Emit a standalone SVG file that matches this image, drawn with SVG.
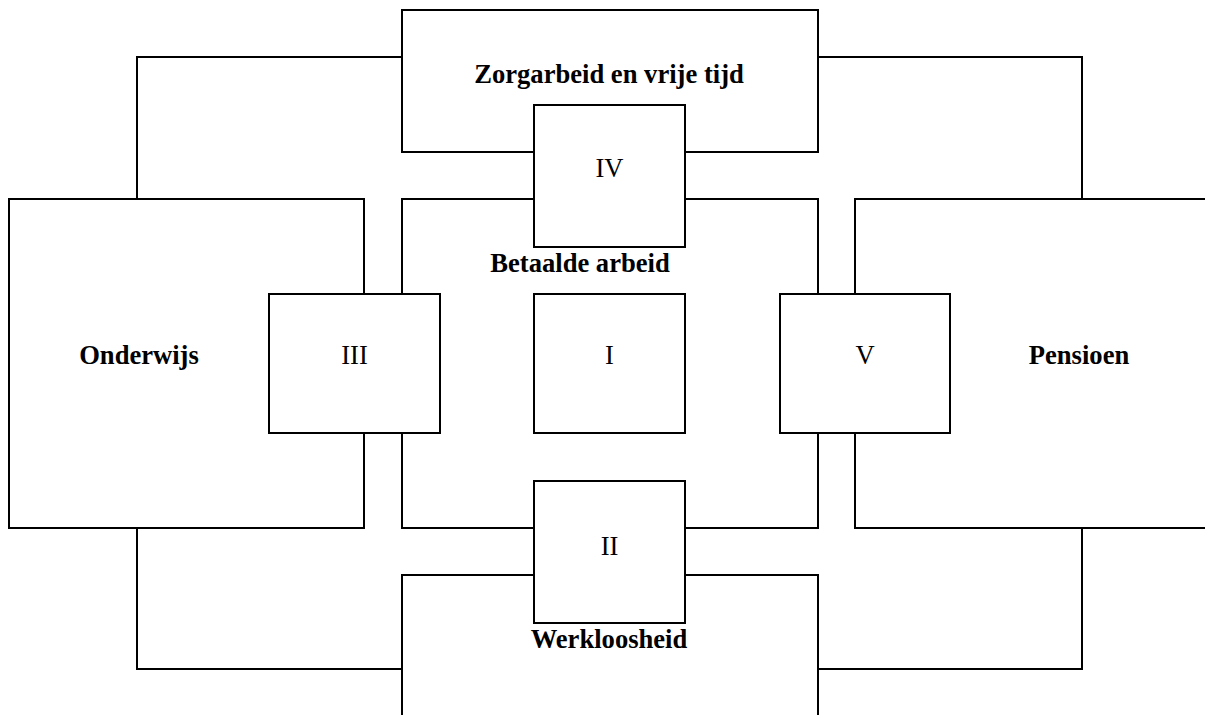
<svg xmlns="http://www.w3.org/2000/svg" width="1205" height="715" viewBox="0 0 1205 715">
<style>
.box{fill:#fff;stroke:#000;stroke-width:2}
.con{fill:none;stroke:#000;stroke-width:2}
.lbl{font-family:"Liberation Serif","Times New Roman",serif;font-size:26.6px;font-weight:bold;fill:#000;text-anchor:middle}
.num{font-family:"Liberation Serif","Times New Roman",serif;font-size:26.6px;fill:#000;text-anchor:middle}
</style>
<rect width="1205" height="715" fill="#fff"/>
<g id="connectors">
<polyline class="con" points="137,199 137,57 402,57"/>
<polyline class="con" points="818,57 1082,57 1082,199"/>
<polyline class="con" points="137,528 137,669 402,669"/>
<polyline class="con" points="818,669 1082,669 1082,528"/>
</g>
<g id="zorgarbeid">
<rect class="box" x="402" y="10" width="416" height="142"/>
<text class="lbl" x="609" y="83">Zorgarbeid en vrije tijd</text>
</g>
<g id="betaalde-arbeid">
<rect class="box" x="402" y="199" width="416" height="329"/>
<text class="lbl" x="580" y="272">Betaalde arbeid</text>
</g>
<g id="onderwijs">
<rect class="box" x="9" y="199" width="355" height="329"/>
<text class="lbl" x="139" y="364">Onderwijs</text>
</g>
<g id="pensioen">
<rect class="box" x="855" y="199" width="360" height="329"/>
<text class="lbl" x="1079" y="364">Pensioen</text>
</g>
<g id="werkloosheid">
<rect class="box" x="402" y="575" width="416" height="145"/>
</g>
<g id="box-IV">
<rect class="box" x="534" y="105" width="151" height="142"/>
<text class="num" x="609.5" y="177">IV</text>
</g>
<g id="box-III">
<rect class="box" x="269" y="294" width="171" height="139"/>
<text class="num" x="354.5" y="364">III</text>
</g>
<g id="box-I">
<rect class="box" x="534" y="294" width="151" height="139"/>
<text class="num" x="609.5" y="364">I</text>
</g>
<g id="box-V">
<rect class="box" x="780" y="294" width="170" height="139"/>
<text class="num" x="865" y="364">V</text>
</g>
<g id="box-II">
<rect class="box" x="534" y="481" width="151" height="142"/>
<text class="num" x="609.5" y="555">II</text>
</g>
<text class="lbl" x="609" y="648">Werkloosheid</text>
</svg>
